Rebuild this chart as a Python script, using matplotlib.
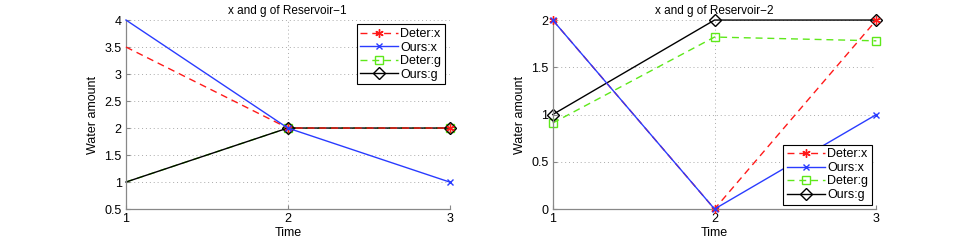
import matplotlib
matplotlib.use('Agg')
import matplotlib.pyplot as plt

# time steps
t = [1, 2, 3]

# Reservoir-1
r1_deter_x = [3.5, 2, 2]
r1_ours_x = [4, 2, 1]
r1_deter_g = [1, 2, 2]
r1_ours_g = [1, 2, 2]
r1_yticks = [0.5, 1, 1.5, 2, 2.5, 3, 3.5, 4]

# Reservoir-2
r2_deter_x = [2, 0, 2]
r2_ours_x = [2, 0, 1]
r2_deter_g = [0.91, 1.82, 1.78]
r2_ours_g = [1, 2, 2]
r2_yticks = [0, 0.5, 1, 1.5, 2]

red = '#ff1a1a'
blue = '#2a3cff'
green = '#5ee81a'
dash = (0, (5, 3.5))

plt.rcParams['font.family'] = ['Liberation Sans', 'DejaVu Sans']

fig = plt.figure(figsize=(9.69, 2.4), dpi=100)
ax1 = fig.add_axes([0.130, 0.129, 0.334, 0.7875])
ax2 = fig.add_axes([0.5704, 0.129, 0.334, 0.7875])


def fmt(v):
    return ('%g' % v)


def draw(ax, dx, ox, dg, og, yt, title, loc, mev):
    ax.plot(t, dx, linestyle=dash, color=red, marker=(6, 2, 0), ms=6, mew=1.0, lw=1.0,
            markevery=mev, label='Deter:x', clip_on=False, zorder=3)
    ax.plot(t, ox, '-', color=blue, marker='x', ms=5, mew=1.0, lw=1.0,
            markevery=mev, label='Ours:x', clip_on=False, zorder=3)
    ax.plot(t, dg, linestyle=dash, color=green, marker='s', ms=6, mfc='none', mew=1.0, lw=1.0,
            markevery=mev, label='Deter:g', clip_on=False, zorder=2)
    ax.plot(t, og, '-', color='black', marker='D', ms=6, mfc='none', mew=1.0, lw=1.0,
            markevery=mev, label='Ours:g', clip_on=False, zorder=2)
    ax.set_xlim(1, 3)
    ax.set_ylim(yt[0], yt[-1])
    ax.set_xticks(t)
    ax.set_xticklabels([fmt(v) for v in t])
    ax.set_yticks(yt)
    ax.set_yticklabels([fmt(v) for v in yt])
    ax.grid(True, linestyle=(0, (1, 3)), color='#aaaaaa', lw=0.7)
    for s in ['top', 'right']:
        ax.spines[s].set_visible(False)
    for s in ['left', 'bottom']:
        ax.spines[s].set_color('#888888')
        ax.spines[s].set_linewidth(0.9)
    ax.tick_params(direction='in', length=3, labelsize=9, color='#888888', pad=3)
    ax.set_title(title, fontsize=8.5, pad=4)
    ax.set_xlabel('Time', fontsize=9, labelpad=1.5)
    ax.set_ylabel('Water amount', fontsize=9, labelpad=4)
    leg = ax.legend(loc=loc, fontsize=9, fancybox=False, framealpha=1,
                    edgecolor='black', handlelength=3.0, handletextpad=0.2,
                    borderpad=0.3, labelspacing=0.12, borderaxespad=0.35)
    leg.get_frame().set_linewidth(0.8)


draw(ax1, r1_deter_x, r1_ours_x, r1_deter_g, r1_ours_g, r1_yticks,
     'x and g of Reservoir\u22121', 'upper right', [1, 2])
draw(ax2, r2_deter_x, r2_ours_x, r2_deter_g, r2_ours_g, r2_yticks,
     'x and g of Reservoir\u22122', 'lower right', [0, 1, 2])

fig.savefig('out.png', dpi=100)
